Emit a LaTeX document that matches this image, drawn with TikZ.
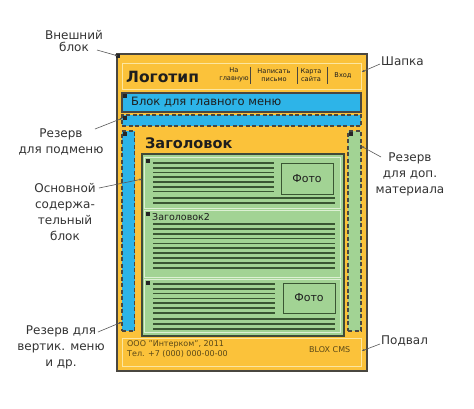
\documentclass[tikz,border=0pt]{standalone}
\usepackage{fontspec}
\setmainfont{DejaVu Sans}
\usetikzlibrary{arrows.meta}
\definecolor{orangeY}{HTML}{FBC23A}
\definecolor{frame}{HTML}{4A4740}
\definecolor{hdrline}{HTML}{FCE6A0}
\definecolor{blu}{HTML}{2DB4E8}
\definecolor{grn}{HTML}{A2D394}
\definecolor{grnlight}{HTML}{DDF0D4}
\definecolor{grndark}{HTML}{3A5633}
\definecolor{grnframe}{HTML}{404A38}
\definecolor{labeltext}{HTML}{333333}
\definecolor{foottext}{HTML}{5A4818}
\definecolor{darktext}{HTML}{1E1E1E}
\newcommand\bx[6]{\node[#2, minimum width={(#5)-(#3)}, minimum height={(#6)-(#4)}] (#1) at (#3,#4) {};}
\begin{document}
\begin{tikzpicture}[x=1pt,y=-1pt,
  box/.style={rectangle, inner sep=0pt, outer sep=0pt, anchor=north west},
  outerbox/.style={box, fill=orangeY, draw=frame, line width=1.3pt},
  hdrbox/.style={box, fill=orangeY, draw=hdrline, line width=1pt},
  menubox/.style={box, fill=blu, draw=frame, line width=1.3pt},
  resblue/.style={box, fill=blu, draw=frame, line width=1.3pt, dash pattern=on 4pt off 2.5pt},
  resgreen/.style={box, fill=grn, draw=frame, line width=1.3pt, dash pattern=on 4pt off 2.5pt},
  contentbox/.style={box, fill=grn, draw=grnframe, line width=1.3pt},
  subbox/.style={box, fill=grn, draw=grnlight, line width=1pt},
  fotobox/.style={box, fill=grn, draw=grndark, line width=1pt},
  fototext/.style={text=darktext, font=\fontsize{11}{13}\selectfont, inner sep=0pt},
  marker/.style={rectangle, fill=black!85, inner sep=0pt, minimum size=3.5pt, anchor=north west},
  cline/.style={draw=grndark, line width=1.7pt},
  sep/.style={draw=frame, line width=0.8pt},
  lbl/.style={align=center, text=labeltext, inner sep=0pt, font=\fontsize{12}{16}\selectfont},
  nav/.style={align=center, text=darktext, inner sep=0pt, font=\fontsize{6.6}{8.4}\selectfont},
  foot/.style={anchor=west, text=foottext, inner sep=0pt, font=\fontsize{8}{10}\selectfont},
  leader/.style={draw=black!65, line width=0.6pt, -{Latex[length=3pt,width=2.2pt]}}
]
\useasboundingbox[fill=white] (0,0) rectangle (474,408);

% outer block
\bx{outer}{outerbox}{117}{54}{367}{371}
% header
\bx{hdr}{hdrbox}{122}{63}{361}{89}
% main menu
\bx{menu}{menubox}{122}{93}{361}{112}
% reserve submenu
\bx{submenu}{resblue}{122}{115}{361}{126}
% left column
\bx{leftcol}{resblue}{122}{131}{134.5}{331}
% right column
\bx{rightcol}{resgreen}{348}{131}{361}{331}
% content
\bx{content}{contentbox}{142}{154}{344}{336}
\bx{blockA}{subbox}{144.5}{157}{340.5}{208}
\bx{blockB}{subbox}{144.5}{210}{340.5}{277}
\bx{blockC}{subbox}{144.5}{279}{340.5}{332}
% footer
\bx{footer}{hdrbox}{122}{338}{361}{366}

% markers
\node[marker] (mOuter) at (116,54) {};
\node[marker] (mMenu) at (123,94) {};
\node[marker] (mSub) at (123,116) {};
\node[marker] (mLeft) at (123,132) {};
\node[marker] (mRight) at (349,132) {};
\node[marker] (mA) at (146,159) {};
\node[marker] (mB) at (146,212) {};
\node[marker] (mC) at (146,281) {};

% header content
\node[anchor=west, inner sep=0pt, text=darktext, font=\fontsize{15.5}{17}\bfseries] (logo) at (126,77) {Логотип};
\node[nav] (nav1) at (234,75) {На\\главную};
\node[nav] (nav2) at (274,75) {Написать\\письмо};
\node[nav] (nav3) at (311,75) {Карта\\сайта};
\node[nav] (nav4) at (343,76) {Вход};
\draw[sep] (250,67) -- (250,84);
\draw[sep] (297,67) -- (297,84);
\draw[sep] (327,67) -- (327,84);

% menu text
\node[anchor=west, inner sep=0pt, text=darktext, font=\fontsize{11.5}{13}\selectfont] (menutext) at (131,102.5) {Блок для главного меню};

% heading
\node[anchor=west, inner sep=0pt, text=darktext, font=\fontsize{14.5}{16}\bfseries] (heading) at (145,143) {Заголовок};

% block A lines
\foreach \i in {0,...,6} \draw[cline] (153,163+4.75*\i) -- (274,163+4.75*\i);
\draw[cline] (153,198) -- (335,198);
\draw[cline] (153,203) -- (335,203);
\node[fotobox, minimum width=52, minimum height=31] (fotoA) at (281,163) {};
\node[fototext] (fotoAt) at (fotoA.center) {Фото};

% block B
\node[anchor=west, inner sep=0pt, text=darktext, font=\fontsize{9.5}{11}\selectfont] (heading2) at (152,217) {Заголовок2};
\foreach \i in {0,...,9} \draw[cline] (153,224+4.85*\i) -- (335,224+4.85*\i);

% block C lines
\foreach \i in {0,...,6} \draw[cline] (153,284+4.8*\i) -- (275,284+4.8*\i);
\draw[cline] (153,319) -- (335,319);
\draw[cline] (153,324) -- (335,324);
\draw[cline] (153,329) -- (335,329);
\node[fotobox, minimum width=52, minimum height=30] (fotoC) at (283,283) {};
\node[fototext] (fotoCt) at (fotoC.center) {Фото};

% footer text
\node[foot] (f1) at (127,344) {ООО "Интерком", 2011};
\node[foot] (f2) at (127,354) {Тел. +7 (000) 000-00-00};
\node[foot] (f3) at (309,350) {BLOX CMS};

% labels
\node[lbl, font=\fontsize{12}{12.5}\selectfont] (lOuter) at (74,41) {Внешний\\блок};
\node[lbl] (lSub) at (61,142) {Резерв\\для подменю};
\node[lbl] (lMain) at (65,212) {Основной\\содержа-\\тельный\\блок};
\node[lbl] (lVert) at (61,347) {Резерв для\\вертик. меню\\и др.};
\node[lbl, anchor=west] (lHdr) at (381,61) {Шапка};
\node[lbl] (lExtra) at (410,174) {Резерв\\для доп.\\материала};
\node[lbl, anchor=west] (lFoot) at (381,341) {Подвал};

% leader start points
\coordinate (sOuter) at (97,50);
\coordinate (sSub) at (95,129);
\coordinate (sMain) at (99,188);
\coordinate (sVert) at (98,332);
\coordinate (sHdr) at (380,64);
\coordinate (sExtra) at (381,157);
\coordinate (sFoot) at (380,344);
\coordinate (eMain) at (142.5,179);
\coordinate (eVert) at (122,322);
\coordinate (eHdr) at (361.5,72);
\coordinate (eExtra) at (361,146);
\coordinate (eFoot) at (361.5,351);

\draw[leader] (sOuter) -- (mOuter.center);
\draw[leader] (sSub) -- (mSub.west);
\draw[leader] (sMain) -- (eMain);
\draw[leader] (sVert) -- (eVert);
\draw[leader] (sHdr) -- (eHdr);
\draw[leader] (sExtra) -- (eExtra);
\draw[leader] (sFoot) -- (eFoot);
\end{tikzpicture}
\end{document}
